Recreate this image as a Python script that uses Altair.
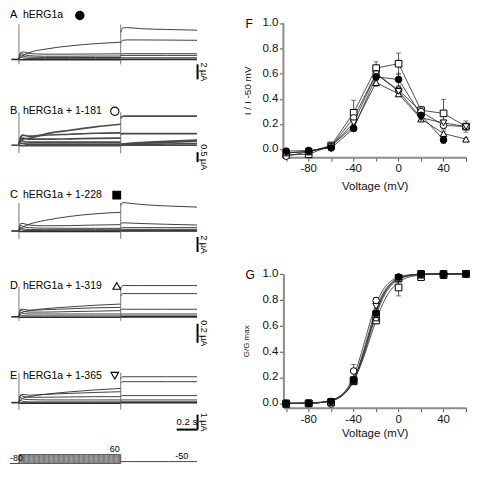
import altair as alt
import pandas as pd

FONT = "Liberation Sans"

# ---------------- current traces (A-E) ----------------
panel_letters = ["A", "B", "C", "D", "E"]
panel_names = ["hERG1a", "hERG1a + 1-181", "hERG1a + 1-228", "hERG1a + 1-319", "hERG1a + 1-365"]
panel_shapes = ["circle", "circle", "square", "triangle-up", "triangle-down"]
panel_fills = ["black", "white", "black", "white", "white"]
scale_bar_values = [2, 0.5, 2, 0.2, 1]
scale_bar_labels = ["2 μA", "0.5 μA", "2 μA", "0.2 μA", "1 μA"]
px_per_uA = [7.5, 20, 7.5, 95, 15]

hold_t = [-0.075, 0.0]
step_t = [0, 0.015, 0.04, 0.1, 0.25, 0.5, 0.75, 1.0]
tail_t = [1.0, 1.02, 1.06, 1.2, 1.45, 1.75]

A_step = [
    [0, 0.25, 0.5, 0.9, 1.35, 1.8, 2.1, 2.3],
    [0, 0.9, 1.0, 0.8, 0.7, 0.7, 0.72, 0.75],
    [0, 0.8, 0.7, 0.5, 0.42, 0.42, 0.44, 0.45],
    [0, 0.6, 0.45, 0.3, 0.25, 0.25, 0.25, 0.25],
    [0, 0.35, 0.2, 0.12, 0.1, 0.1, 0.1, 0.1],
    [0, -0.05, -0.05, -0.05, -0.05, -0.05, -0.05, -0.05],
]
A_tail = [
    [3.6, 4.2, 4.25, 4.1, 4.0, 3.9],
    [2.2, 2.55, 2.6, 2.6, 2.58, 2.55],
    [0.7, 0.75, 0.76, 0.76, 0.76, 0.76],
    [0.5, 0.53, 0.53, 0.53, 0.53, 0.53],
    [0.2, 0.22, 0.22, 0.22, 0.22, 0.22],
    [0, 0, 0, 0, 0, 0],
]
B_step = [
    [0, 0.2, 0.3, 0.35, 0.55, 0.75, 0.92, 1.05],
    [0, 0.4, 0.5, 0.45, 0.5, 0.55, 0.6, 0.62],
    [0, 0.35, 0.35, 0.3, 0.3, 0.32, 0.34, 0.35],
    [0, 0.25, 0.2, 0.15, 0.15, 0.15, 0.15, 0.15],
    [0, 0.1, 0.08, 0.05, 0.05, 0.05, 0.05, 0.05],
    [0, -0.03, -0.03, -0.03, -0.03, -0.03, -0.03, -0.03],
]
B_tail = [
    [1.35, 1.45, 1.46, 1.46, 1.46, 1.46],
    [0.55, 0.58, 0.58, 0.58, 0.58, 0.58],
    [0.05, 0.06, 0.08, 0.13, 0.19, 0.25],
    [0.03, 0.04, 0.05, 0.09, 0.14, 0.2],
    [0.0, 0.01, 0.02, 0.04, 0.06, 0.08],
    [0, 0, 0, 0, 0, 0],
]
C_step = [
    [0, 0.3, 0.55, 0.9, 1.4, 1.95, 2.3, 2.5],
    [0, 1.0, 1.0, 0.8, 0.7, 0.72, 0.8, 0.85],
    [0, 0.8, 0.6, 0.45, 0.38, 0.36, 0.36, 0.36],
    [0, 0.5, 0.3, 0.2, 0.18, 0.18, 0.18, 0.18],
    [0, 0.25, 0.12, 0.06, 0.05, 0.05, 0.05, 0.05],
    [0, -0.06, -0.06, -0.06, -0.06, -0.06, -0.06, -0.06],
]
C_tail = [
    [3.4, 3.8, 3.75, 3.55, 3.35, 3.2],
    [1.0, 1.1, 1.08, 1.0, 0.9, 0.8],
    [0.42, 0.45, 0.45, 0.45, 0.45, 0.45],
    [0.2, 0.22, 0.22, 0.22, 0.22, 0.22],
    [0.05, 0.05, 0.05, 0.05, 0.05, 0.05],
    [0, 0, 0, 0, 0, 0],
]
D_step = [
    [0, 0.03, 0.05, 0.065, 0.085, 0.105, 0.122, 0.135],
    [0, 0.08, 0.08, 0.07, 0.075, 0.085, 0.095, 0.1],
    [0, 0.07, 0.06, 0.05, 0.05, 0.055, 0.06, 0.065],
    [0, 0.05, 0.035, 0.03, 0.03, 0.03, 0.03, 0.03],
    [0, 0.02, 0.012, 0.01, 0.01, 0.01, 0.01, 0.01],
    [0, -0.005, -0.005, -0.005, -0.005, -0.005, -0.005, -0.005],
]
D_tail = [
    [0.30, 0.33, 0.33, 0.33, 0.33, 0.33],
    [0.22, 0.245, 0.245, 0.245, 0.245, 0.245],
    [0.075, 0.08, 0.08, 0.08, 0.08, 0.08],
    [0.028, 0.03, 0.03, 0.03, 0.03, 0.03],
    [0.01, 0.01, 0.01, 0.01, 0.01, 0.01],
    [0, 0, 0, 0, 0, 0],
]
E_step = [
    [0, 0.15, 0.3, 0.4, 0.55, 0.72, 0.85, 0.95],
    [0, 0.5, 0.55, 0.5, 0.55, 0.62, 0.68, 0.73],
    [0, 0.5, 0.42, 0.36, 0.36, 0.38, 0.4, 0.4],
    [0, 0.35, 0.25, 0.2, 0.18, 0.18, 0.18, 0.18],
    [0, 0.15, 0.08, 0.05, 0.05, 0.05, 0.05, 0.05],
    [0, -0.03, -0.03, -0.03, -0.03, -0.03, -0.03, -0.03],
]
E_tail = [
    [1.6, 1.73, 1.73, 1.73, 1.73, 1.73],
    [1.3, 1.4, 1.4, 1.4, 1.4, 1.4],
    [0.45, 0.47, 0.47, 0.47, 0.47, 0.47],
    [0.17, 0.18, 0.18, 0.18, 0.18, 0.18],
    [0.05, 0.05, 0.05, 0.05, 0.05, 0.05],
    [0, 0, 0, 0, 0, 0],
]
panel_steps = [A_step, B_step, C_step, D_step, E_step]
panel_tails = [A_tail, B_tail, C_tail, D_tail, E_tail]

# capacitive transient extents (pixels above / below baseline)
transient_up = [35, 33, 28, 30, 30]
transient_down = [5, 8, 8, 4, 7]
bar_offset_px = [5, 7, 6, 7, 12]
label_y = [5, 15, 13, 18, 22]
symbol_x = [70, 105, 107, 107, 105]

# voltage protocol
protocol_levels = [-80, -60, -40, -20, 0, 20, 40, 60]
hold_v = -80
tail_v = -50

# ---------------- F: I / I-50mV ----------------
volts = [-100, -80, -60, -40, -20, 0, 20, 40, 60]
volt_labels = [-80, -40, 0, 40]
yticks = [0, 0.2, 0.4, 0.6, 0.8, 1.0]
F_hERG1a = [-0.015, -0.01, 0.01, 0.165, 0.575, 0.555, 0.27, 0.075, None]
F_1_181 = [-0.055, -0.02, 0.02, 0.25, 0.60, 0.47, 0.30, 0.19, 0.18]
F_1_228 = [-0.045, -0.04, 0.03, 0.29, 0.645, 0.68, 0.31, 0.285, 0.18]
F_1_319 = [-0.03, -0.02, 0.03, 0.18, 0.53, 0.44, 0.24, 0.125, 0.08]
F_1_365 = [-0.03, -0.015, 0.02, 0.21, 0.60, 0.46, 0.25, 0.21, 0.18]
F_err_hERG1a = [0.01, 0.01, 0.01, 0.02, 0.03, 0.05, 0.02, 0.03, None]
F_err_1_181 = [0.01, 0.01, 0.01, 0.03, 0.04, 0.03, 0.03, 0.03, 0.045]
F_err_1_228 = [0.01, 0.01, 0.01, 0.10, 0.05, 0.085, 0.03, 0.11, 0.02]
F_err_1_319 = [0.01, 0.01, 0.01, 0.02, 0.03, 0.02, 0.02, 0.02, 0.01]
F_err_1_365 = [0.01, 0.01, 0.01, 0.02, 0.03, 0.02, 0.02, 0.02, 0.02]

# ---------------- G: G/Gmax ----------------
G_hERG1a = [0.0, 0.0, 0.015, 0.18, 0.695, 0.975, 1.0, 1.0, 1.0]
G_1_181 = [0.0, 0.0, -0.005, 0.25, 0.795, 0.975, 1.0, 0.995, 1.0]
G_1_228 = [0.0, 0.0, 0.01, 0.18, 0.69, 0.97, 1.0, 1.0, 1.0]
G_1_228o = [-0.005, 0.0, 0.01, 0.17, 0.64, 0.895, 0.975, 0.99, 1.0]
G_1_319 = [0.0, 0.0, 0.01, 0.17, 0.66, 0.96, 0.99, 1.0, 1.0]
G_1_365 = [0.0, 0.0, 0.01, 0.18, 0.75, 0.965, 1.0, 1.0, 1.0]
G_err_1_181 = [0.01, 0.01, 0.01, 0.05, 0.02, 0.01, 0.01, 0.01, 0.01]
G_err_1_228o = [0.01, 0.01, 0.01, 0.01, 0.02, 0.065, 0.02, 0.01, 0.01]
G_err_other = [0.01, 0.01, 0.01, 0.01, 0.02, 0.01, 0.01, 0.01, 0.01]
# Boltzmann fit parameters
G_vhalf = [-27.2, -29.5, -27.3, -25.5, -26.5, -28.0]
G_slope = [8.4, 8.0, 8.3, 9.5, 8.6, 8.2]

# ======================================================
LEFT_W = 200
PANEL_H = 86
BASE_PX = 49
XDOM = [-0.088, 1.873]
TRACE_COL = "#2b2b2b"
one = pd.DataFrame({"a": [0]})


def trace_panel(k):
    ppu = px_per_uA[k]
    ydom = [-(PANEL_H - BASE_PX) / ppu, BASE_PX / ppu]
    xs = alt.Scale(domain=XDOM, nice=False, zero=False)
    ys = alt.Scale(domain=ydom, nice=False, zero=False)
    rows = []
    for t in hold_t:
        rows.append(dict(seg="hold", t=t, I=0.0, w=1.6))
    n = len(panel_steps[k])
    for j in range(n):
        w = 1.6 if j == n - 1 else (1.7 if k == 1 else 0.9)
        for t, v in zip(step_t, panel_steps[k][j]):
            rows.append(dict(seg=f"s{j}", t=t, I=v, w=w))
        for t, v in zip(tail_t, panel_tails[k][j]):
            rows.append(dict(seg=f"t{j}", t=t, I=v, w=w))
    df = pd.DataFrame(rows)
    col = "#4a4a4a" if k == 1 else TRACE_COL
    lines = alt.Chart(df).mark_line(interpolate="monotone", color=col).encode(
        x=alt.X("t:Q", scale=xs, axis=None), y=alt.Y("I:Q", scale=ys, axis=None),
        detail="seg:N", order="t:Q",
        strokeWidth=alt.StrokeWidth("w:Q", scale=None))

    tr = pd.DataFrame(dict(t=[0.0, 1.0],
                           top=[transient_up[k] / ppu] * 2,
                           bot=[-transient_down[k] / ppu] * 2))
    transients = alt.Chart(tr).mark_rule(color="#555", strokeWidth=0.8).encode(
        x="t:Q", y="top:Q", y2="bot:Q")

    b_top = -bar_offset_px[k] / ppu
    b_bot = b_top - scale_bar_values[k]
    bar = pd.DataFrame(dict(t=[1.755], y1=[b_top], y2=[b_bot], tt=[1.815],
                            ym=[(b_top + b_bot) / 2], lab=[scale_bar_labels[k]]))
    bar_rule = alt.Chart(bar).mark_rule(color="black", strokeWidth=2).encode(
        x="t:Q", y="y1:Q", y2="y2:Q")
    bar_text = alt.Chart(bar).mark_text(angle=90, fontSize=9, font=FONT, align="center",
                                        baseline="middle", color="black").encode(
        x="tt:Q", y="ym:Q", text="lab:N")
    layers = [lines, transients, bar_rule, bar_text]
    if k == 4:
        hb = pd.DataFrame(dict(t1=[1.55], t2=[1.755], y=[b_bot], tm=[1.65], lab=["0.2 s"]))
        layers.append(alt.Chart(hb).mark_rule(color="black", strokeWidth=2).encode(
            x="t1:Q", x2="t2:Q", y="y:Q"))
        layers.append(alt.Chart(hb).mark_text(fontSize=9.5, font=FONT, baseline="bottom",
                                              dy=-3, color="black").encode(
            x="tm:Q", y="y:Q", text="lab:N"))
    layers.append(alt.Chart(one).mark_text(text=panel_letters[k], fontSize=11, font=FONT,
                                           align="left", baseline="middle", color="black").encode(
        x=alt.value(0), y=alt.value(label_y[k])))
    layers.append(alt.Chart(one).mark_text(text=panel_names[k], fontSize=10.5, font=FONT,
                                           align="left", baseline="middle", color="black").encode(
        x=alt.value(13), y=alt.value(label_y[k])))
    sz = 70 if panel_shapes[k] == "circle" else 60
    layers.append(alt.Chart(one).mark_point(shape=panel_shapes[k], filled=True, fill=panel_fills[k],
                                            stroke="black", strokeWidth=1.1, size=sz, opacity=1).encode(
        x=alt.value(symbol_x[k]), y=alt.value(label_y[k])))
    return alt.layer(*layers).properties(width=LEFT_W, height=PANEL_H)


def protocol_panel():
    h = 28
    ppmv = 9 / 140
    ydom = [-80 - 4 / ppmv, 60 + 15 / ppmv]
    xs = alt.Scale(domain=XDOM, nice=False, zero=False)
    ys = alt.Scale(domain=ydom, nice=False, zero=False)
    rect = pd.DataFrame(dict(t1=[0.0], t2=[1.0], v1=[min(protocol_levels)], v2=[max(protocol_levels)]))
    r = alt.Chart(rect).mark_rect(fill="#7d7d7d", stroke="#444", strokeWidth=0.8).encode(
        x=alt.X("t1:Q", scale=xs, axis=None), x2="t2:Q",
        y=alt.Y("v1:Q", scale=ys, axis=None), y2="v2:Q")
    inner = pd.DataFrame(dict(t1=[0.01] * 6, t2=[0.99] * 6, v=protocol_levels[1:-1]))
    il = alt.Chart(inner).mark_rule(color="#b5b5b5", strokeWidth=0.6, strokeDash=[3, 2]).encode(
        x="t1:Q", x2="t2:Q", y="v:Q")
    hl = pd.DataFrame(dict(t1=[-0.088, 1.0], t2=[0.0, 1.75], v=[hold_v, tail_v]))
    hold = alt.Chart(hl).mark_rule(color="#333", strokeWidth=0.9).encode(
        x="t1:Q", x2="t2:Q", y="v:Q")
    txt = pd.DataFrame(dict(t=[-0.088, 0.99, 1.6], v=[hold_v, max(protocol_levels), tail_v],
                            lab=["-80", "60", "-50"], al=["left", "right", "center"]))
    texts = []
    for i in range(3):
        texts.append(alt.Chart(txt.iloc[[i]]).mark_text(fontSize=9, font=FONT, align=txt.al[i],
                                                        baseline="bottom", dy=-1, color="black").encode(
            x="t:Q", y="v:Q", text="lab:N"))
    return alt.layer(r, il, hold, *texts).properties(width=LEFT_W, height=h)


# ---------------- F / G panels ----------------
R_W = 183
R_H = 134
F_EXTRA_PX = 13
XR = alt.Scale(domain=[-102.5, 60], nice=False, zero=False)
AX_COL = "#8c8c8c"


def build_df(series, vals, errs):
    rows = []
    for s in series:
        for v, y, e in zip(volts, vals[s], errs[s]):
            if y is None:
                continue
            rows.append(dict(series=s, v=v, y=y, lo=y - e, hi=y + e))
    return pd.DataFrame(rows)


def tick_label_layers(yscale, plot_h, xaxis, yaxis):
    ylab = pd.DataFrame(dict(val=yticks, lab=[f"{v:.1f}" for v in yticks]))
    xlab = pd.DataFrame(dict(val=volt_labels, lab=[str(v) for v in volt_labels]))
    yl = alt.Chart(ylab).mark_text(align="right", baseline="middle", fontSize=11.5, font=FONT,
                                   color="#111", dx=-5).encode(
        x=alt.value(0), y=alt.Y("val:Q", scale=yscale, axis=yaxis), text="lab:N")
    xl = alt.Chart(xlab).mark_text(align="center", baseline="middle", fontSize=11.5, font=FONT,
                                   color="#111").encode(
        x=alt.X("val:Q", scale=XR, axis=xaxis), y=alt.value(plot_h + 12), text="lab:N")
    return yl, xl


def point_layers(df, yscale, series, shapes, fills, xaxis, yaxis):
    base = alt.Chart(df).encode(x=alt.X("v:Q", scale=XR, axis=xaxis))
    err = base.mark_rule(color="#222", strokeWidth=0.8).encode(
        y=alt.Y("lo:Q", scale=yscale, axis=yaxis), y2="hi:Q")
    cap = base.mark_tick(orient="horizontal", size=5, thickness=0.8, color="#222").encode(
        y=alt.Y("hi:Q", scale=yscale, axis=yaxis))
    cap2 = base.mark_tick(orient="horizontal", size=5, thickness=0.8, color="#222").encode(
        y=alt.Y("lo:Q", scale=yscale, axis=yaxis))
    pts = base.mark_point(filled=True, size=44, stroke="black", strokeWidth=1, opacity=1).encode(
        y=alt.Y("y:Q", scale=yscale, axis=yaxis),
        shape=alt.Shape("series:N", scale=alt.Scale(domain=series, range=[shapes[s] for s in series]), legend=None),
        fill=alt.Fill("series:N", scale=alt.Scale(domain=series, range=[fills[s] for s in series]), legend=None),
    )
    return err, cap, cap2, pts


# ---- F ----
F_series = ["1-228", "1-181", "1-319", "1-365", "hERG1a"]
F_vals = {"hERG1a": F_hERG1a, "1-181": F_1_181, "1-228": F_1_228, "1-319": F_1_319, "1-365": F_1_365}
F_errs = {"hERG1a": F_err_hERG1a, "1-181": F_err_1_181, "1-228": F_err_1_228,
          "1-319": F_err_1_319, "1-365": F_err_1_365}
F_shape = {"hERG1a": "circle", "1-181": "circle", "1-228": "square",
           "1-319": "triangle-up", "1-365": "triangle-down"}
F_fill = {"hERG1a": "black", "1-181": "white", "1-228": "white",
          "1-319": "white", "1-365": "white"}
dfF = build_df(F_series, F_vals, F_errs)

f_lo, f_hi = -0.063, 1.0
f_top = f_hi + F_EXTRA_PX * (f_hi - f_lo) / R_H
fy = alt.Scale(domain=[f_lo, f_top], nice=False, zero=False)
f_xaxis = alt.Axis(values=volts, labels=False, title="Voltage (mV)", titleFontSize=11.5,
                   titleFontWeight="normal", titlePadding=19)
f_yaxis = alt.Axis(values=yticks, labels=False, domain=False, title="I / I -50 mV",
                   titleFontSize=10, titleFontWeight="normal", titlePadding=26,
                   titleY=F_EXTRA_PX + R_H / 2)

f_lines = alt.Chart(dfF).mark_line(color="#222", strokeWidth=0.8).encode(
    x=alt.X("v:Q", scale=XR, axis=f_xaxis), y=alt.Y("y:Q", scale=fy, axis=f_yaxis),
    detail="series:N", order="v:Q")
f_err, f_cap, f_cap2, f_pts = point_layers(dfF, fy, F_series, F_shape, F_fill, f_xaxis, f_yaxis)
f_axisline = alt.Chart(pd.DataFrame(dict(y1=[f_lo], y2=[f_hi]))).mark_rule(
    color=AX_COL, strokeWidth=2).encode(x=alt.value(0), y=alt.Y("y1:Q", scale=fy, axis=f_yaxis), y2="y2:Q")
f_yl, f_xl = tick_label_layers(fy, R_H + F_EXTRA_PX, f_xaxis, f_yaxis)
f_letter = alt.Chart(one).mark_text(text="F", fontSize=12, font=FONT, align="left",
                                    baseline="middle", color="black").encode(
    x=alt.value(-38), y=alt.value(F_EXTRA_PX + 1))
chartF = alt.layer(f_lines, f_axisline, f_err, f_cap, f_cap2, f_pts, f_yl, f_xl, f_letter).properties(
    width=R_W, height=R_H + F_EXTRA_PX)

# ---- G ----
G_series = ["1-228o", "1-319", "1-365", "1-181", "1-228", "hERG1a"]
G_vals = {"hERG1a": G_hERG1a, "1-181": G_1_181, "1-228": G_1_228, "1-228o": G_1_228o,
          "1-319": G_1_319, "1-365": G_1_365}
G_errs = {"hERG1a": G_err_other, "1-181": G_err_1_181, "1-228": G_err_other, "1-228o": G_err_1_228o,
          "1-319": G_err_other, "1-365": G_err_other}
G_shape = {"hERG1a": "circle", "1-181": "circle", "1-228": "square", "1-228o": "square",
           "1-319": "triangle-up", "1-365": "triangle-down"}
G_fill = {"hERG1a": "black", "1-181": "white", "1-228": "black", "1-228o": "white",
          "1-319": "white", "1-365": "white"}
G_fit_series = ["hERG1a", "1-181", "1-228", "1-228o", "1-319", "1-365"]
dfG = build_df(G_series, G_vals, G_errs)
fitG = pd.DataFrame(dict(series=G_fit_series, vhalf=G_vhalf, k=G_slope))

gy = alt.Scale(domain=[-0.033, 1.0], nice=False, zero=False)
g_xaxis = alt.Axis(values=volts, labels=False, title="Voltage (mV)", titleFontSize=11.5,
                   titleFontWeight="normal", titlePadding=15)
g_yaxis = alt.Axis(values=yticks, labels=False, title="G/G max",
                   titleFontSize=8, titleFontWeight="normal", titlePadding=28)
g_curves = alt.Chart(fitG).transform_calculate(
    vs="sequence(-100, 60.5, 0.5)").transform_flatten(["vs"]).transform_calculate(
    g="1 / (1 + exp((datum.vhalf - datum.vs) / datum.k))").mark_line(
    color="#333", strokeWidth=0.9).encode(
    x=alt.X("vs:Q", scale=XR, axis=g_xaxis), y=alt.Y("g:Q", scale=gy, axis=g_yaxis),
    detail="series:N", order="vs:Q")
g_err, g_cap, g_cap2, g_pts = point_layers(dfG, gy, G_series, G_shape, G_fill, g_xaxis, g_yaxis)
g_yl, g_xl = tick_label_layers(gy, R_H, g_xaxis, g_yaxis)
g_letter = alt.Chart(one).mark_text(text="G", fontSize=12, font=FONT, align="left",
                                    baseline="middle", color="black").encode(
    x=alt.value(-38), y=alt.value(1))
chartG = alt.layer(g_curves, g_err, g_cap, g_cap2, g_pts, g_yl, g_xl, g_letter).properties(
    width=R_W, height=R_H)

left = alt.vconcat(*[trace_panel(k) for k in range(5)], protocol_panel(), spacing=0)
right = alt.vconcat(chartF, chartG, spacing=76)

chart = alt.hconcat(left, right, spacing=33).properties(padding=0).configure_view(
    stroke=None).configure_axis(
    domainColor=AX_COL, domainWidth=2, tickColor="#555", tickWidth=1, tickSize=4,
    labelFont=FONT, titleFont=FONT, labelColor="#111", titleColor="#111", grid=False
).configure_text(font=FONT)

chart.save("out.html", embed_options={"renderer": "svg", "actions": False})
